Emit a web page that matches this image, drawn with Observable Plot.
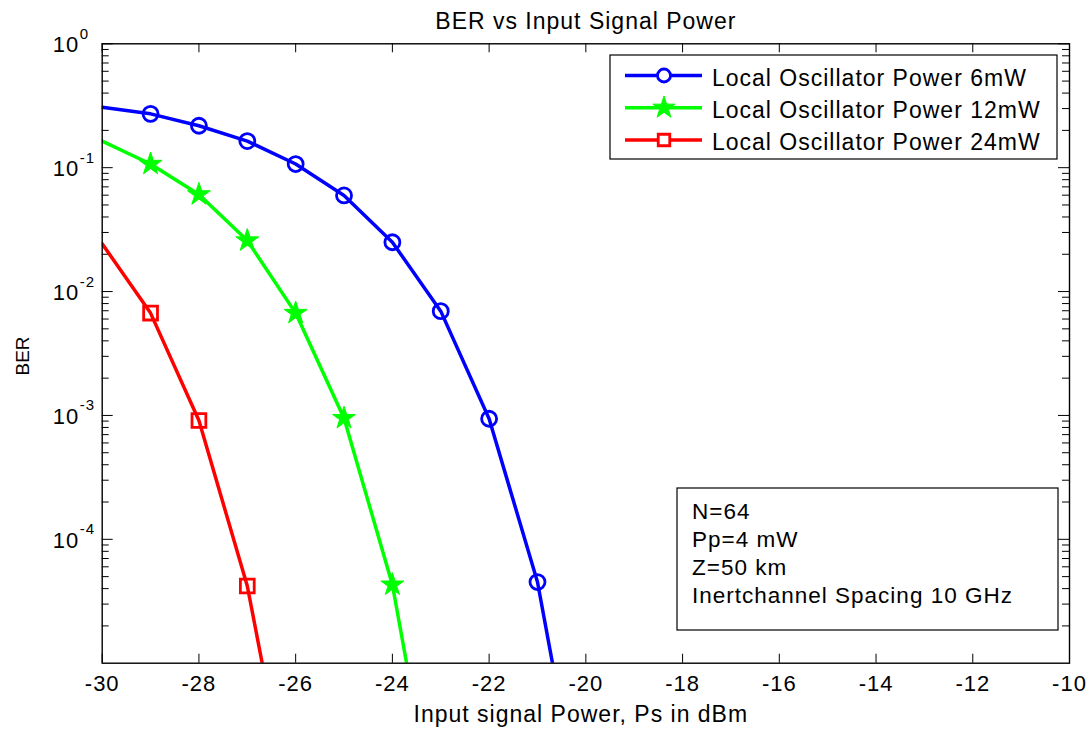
<!DOCTYPE html>
<html><head><meta charset="utf-8">
<script src="https://cdn.jsdelivr.net/npm/d3@7"></script>
<script src="https://cdn.jsdelivr.net/npm/@observablehq/plot@0.6"></script>
<style>body{margin:0;background:#fff}</style>
</head><body><div id="chart"></div>
<script>
// ---- data ----
const power6  = [-30, -29, -28, -27, -26, -25, -24, -23, -22, -21, -20];
const ber6    = [0.308, 0.272, 0.218, 0.164, 0.107, 0.0597, 0.0250, 0.00695, 0.00094, 4.52e-5, 3.5e-7];
const power12 = [-30, -29, -28, -27, -26, -25, -24, -23];
const ber12   = [0.164, 0.107, 0.0608, 0.0258, 0.0067, 0.00095, 4.3e-5, 3e-7];
const power24 = [-30, -29, -28, -27, -26];
const ber24   = [0.0243, 0.0067, 0.00091, 4.2e-5, 4e-7];

const seriesLabels = ["Local Oscillator Power 6mW", "Local Oscillator Power 12mW", "Local Oscillator Power 24mW"];
const seriesColors = ["#0000ff", "#00ff00", "#ff0000"];
const noteLines = ["N=64", "Pp=4 mW", "Z=50 km", "Inertchannel Spacing 10 GHz"];
const titleText = "BER vs Input Signal Power";
const xLabel = "Input signal Power, Ps in dBm";
const yLabel = "BER";

const xTicks = [-30, -28, -26, -24, -22, -20, -18, -16, -14, -12, -10];
const yTicks = [1, 0.1, 0.01, 0.001, 0.0001];
const yDecades = [1e-5, 1e-4, 1e-3, 1e-2, 1e-1];
const yMinor = [];
for (const d of yDecades) for (let k = 2; k <= 9; k++) yMinor.push(d * k);

// ---- layout ----
const W = 1091, H = 729;
const mL = 101.7, mR = 22, mT = 43.3, mB = 66.3;
const fw = W - mL - mR, fh = H - mT - mB;

const toRows = (xs, ys) => xs.map((x, i) => ({x, y: ys[i]}));
const s6 = toRows(power6, ber6), s12 = toRows(power12, ber12), s24 = toRows(power24, ber24);
const inner = s => s.slice(1, -1);

const tickStyle = {stroke: "black", strokeWidth: 1};
const symR = [7.5, 7.2, 7.8];

const plot = Plot.plot({
  width: W, height: H,
  marginLeft: mL, marginRight: mR, marginTop: mT, marginBottom: mB,
  x: {domain: [-30, -10], axis: null},
  y: {type: "log", domain: [1e-5, 1], axis: null},
  style: {fontFamily: "'Liberation Sans', Arial, sans-serif", letterSpacing: "1px", background: "white", color: "black", overflow: "visible"},
  marks: [
    // ticks (inward, on all four sides)
    Plot.ruleX(xTicks, {x: d => d, insetTop: fh - 9, ...tickStyle}),
    Plot.ruleX(xTicks, {x: d => d, insetBottom: fh - 9, ...tickStyle}),
    Plot.ruleY(yTicks, {y: d => d, insetRight: fw - 11, ...tickStyle}),
    Plot.ruleY(yTicks, {y: d => d, insetLeft: fw - 11, ...tickStyle}),
    Plot.ruleY(yMinor, {y: d => d, insetRight: fw - 7, ...tickStyle}),
    Plot.ruleY(yMinor, {y: d => d, insetLeft: fw - 7, ...tickStyle}),
    // series
    Plot.line(s6,  {x: "x", y: "y", stroke: seriesColors[0], strokeWidth: 3.5, clip: true}),
    Plot.line(s12, {x: "x", y: "y", stroke: seriesColors[1], strokeWidth: 3.5, clip: true}),
    Plot.line(s24, {x: "x", y: "y", stroke: seriesColors[2], strokeWidth: 3.5, clip: true}),
    Plot.dot(inner(s6),  {x: "x", y: "y", symbol: "circle", r: symR[0], stroke: seriesColors[0], strokeWidth: 2.8, fill: "none"}),
    Plot.dot(inner(s12), {x: "x", y: "y", symbol: "star", r: symR[1], stroke: seriesColors[1], strokeWidth: 1, fill: seriesColors[1]}),
    Plot.dot(inner(s24), {x: "x", y: "y", symbol: "square", r: symR[2], stroke: seriesColors[2], strokeWidth: 2.8, fill: "none"}),
    Plot.frame({stroke: "black", strokeWidth: 1.4}),
    // x tick labels
    Plot.text(xTicks, {x: d => d, frameAnchor: "bottom", dy: 28, lineAnchor: "bottom", text: d => String(d), fontSize: 22, fill: "black"}),
    // y tick labels 10^k
    Plot.text(yTicks, {y: d => d, frameAnchor: "left", dx: -23, dy: 8.4, textAnchor: "end", lineAnchor: "bottom", text: () => "10", fontSize: 22, fill: "black"}),
    Plot.text(yTicks, {y: d => d, frameAnchor: "left", dx: -22.4, dy: -5, textAnchor: "start", lineAnchor: "bottom", text: d => String(Math.round(Math.log10(d))), fontSize: 15, fill: "black"}),
    // title and axis labels
    Plot.text([titleText], {frameAnchor: "top", dy: -15, lineAnchor: "bottom", text: d => d, fontSize: 23, fill: "black"}),
    Plot.text([xLabel], {frameAnchor: "bottom", dx: -5, dy: 59, lineAnchor: "bottom", text: d => d, fontSize: 23, fill: "black"}),
    Plot.text([yLabel], {frameAnchor: "left", dx: -73, dy: 22, rotate: -90, lineAnchor: "bottom", text: d => d, fontSize: 19, fill: "black"})
  ]
});
document.getElementById("chart").append(plot);

const svg = d3.select(plot);
svg.selectAll("text").filter(function () { return this.textContent === yLabel; }).style("letter-spacing", "0px");

// ---- legend ----
const symbols = [d3.symbolCircle, d3.symbolStar, d3.symbolSquare];
const legR = [6.5, 7, 6.5];
const lg = svg.append("g").attr("text-anchor", "start");
lg.append("rect").attr("x", 610).attr("y", 55).attr("width", 447).attr("height", 104)
  .attr("fill", "white").attr("stroke", "black").attr("stroke-width", 1.2);
seriesLabels.forEach((label, i) => {
  const cy = 75.5 + i * 32.25;
  lg.append("line").attr("x1", 625).attr("x2", 702).attr("y1", cy).attr("y2", cy)
    .attr("stroke", seriesColors[i]).attr("stroke-width", 3.5);
  lg.append("path").attr("d", d3.symbol(symbols[i], Math.PI * legR[i] * legR[i])())
    .attr("transform", `translate(664,${cy})`)
    .attr("fill", i === 1 ? seriesColors[i] : "white")
    .attr("stroke", seriesColors[i]).attr("stroke-width", i === 1 ? 1 : 2.8);
  lg.append("text").attr("x", 712).attr("y", cy + 10).attr("font-size", 23)
    .attr("text-anchor", "start").attr("fill", "black").text(label);
});

// ---- annotation box ----
const nb = svg.append("g").attr("text-anchor", "start");
nb.append("rect").attr("x", 677).attr("y", 488).attr("width", 381).attr("height", 142)
  .attr("fill", "white").attr("stroke", "black").attr("stroke-width", 1.2);
noteLines.forEach((t, i) => {
  nb.append("text").attr("x", 692).attr("y", 519.3 + i * 28).attr("font-size", 22.5)
    .attr("text-anchor", "start").attr("fill", "black").text(t);
});
</script>
</body></html>
